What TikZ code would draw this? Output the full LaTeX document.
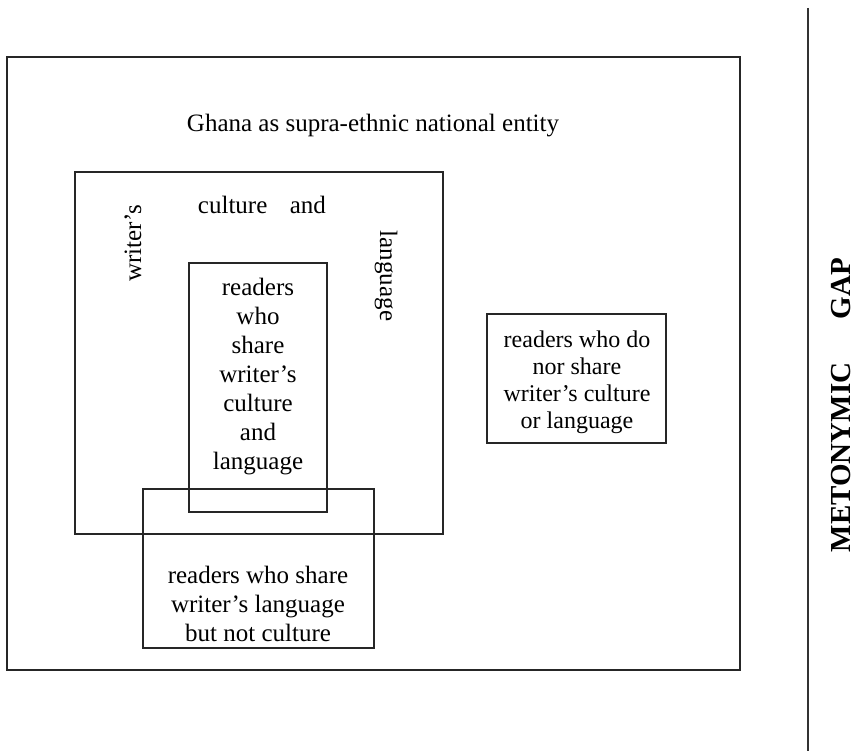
\documentclass[tikz,border=0pt]{standalone}
\usepackage{fontspec}
\setmainfont{Liberation Serif}
\begin{document}
\begin{tikzpicture}[x=1pt,y=-1pt,
  frame/.style={draw=black!85, line width=1.4pt, inner sep=0pt},
  lbl/.style={inner sep=0pt, align=center, font=\fontsize{25}{29}\selectfont},
  smalllbl/.style={inner sep=0pt, align=center, font=\fontsize{24}{27}\selectfont},
  gaplbl/.style={inner sep=0pt, font=\fontsize{29}{32}\selectfont\bfseries}]
\useasboundingbox (0,0) rectangle (868,751);

% outer frame: the nation
\draw[frame] (7,57) rectangle (740,670);
\node[lbl] (ghana) at (373,126) {Ghana as supra-ethnic national entity};

% writer's culture and language
\draw[frame] (75,172) rectangle (443,534);
\node[lbl] (culture) at (262,205) {culture\hspace{0.9em}and};
\node[lbl, rotate=90] (writers) at (133,243) {writer’s};
\node[lbl, rotate=-90] (language) at (386,276) {language};

% readers sharing both
\draw[frame] (189,263) rectangle (327,512);
\node[lbl] (both) at (258,377) {readers\\who\\share\\writer’s\\culture\\and\\language};

% readers sharing only the language
\draw[frame] (143,489) rectangle (374,648);
\node[lbl] (langonly) at (258,604) {readers who share\\writer’s language\\but not culture};

% readers sharing neither
\draw[frame] (487,314) rectangle (666,443);
\node[smalllbl] (neither) at (577,382) {readers who do\\nor share\\writer’s culture\\or language};

% the gap
\coordinate (gaptop) at (808,8);
\coordinate (gapbot) at (808,751);
\draw[draw=black!80, line width=1.6pt] (gaptop) -- (gapbot);
\node[gaplbl, rotate=90] (gap) at (841,405) {METONYMIC\hspace{1.5em}GAP};
\end{tikzpicture}
\end{document}
